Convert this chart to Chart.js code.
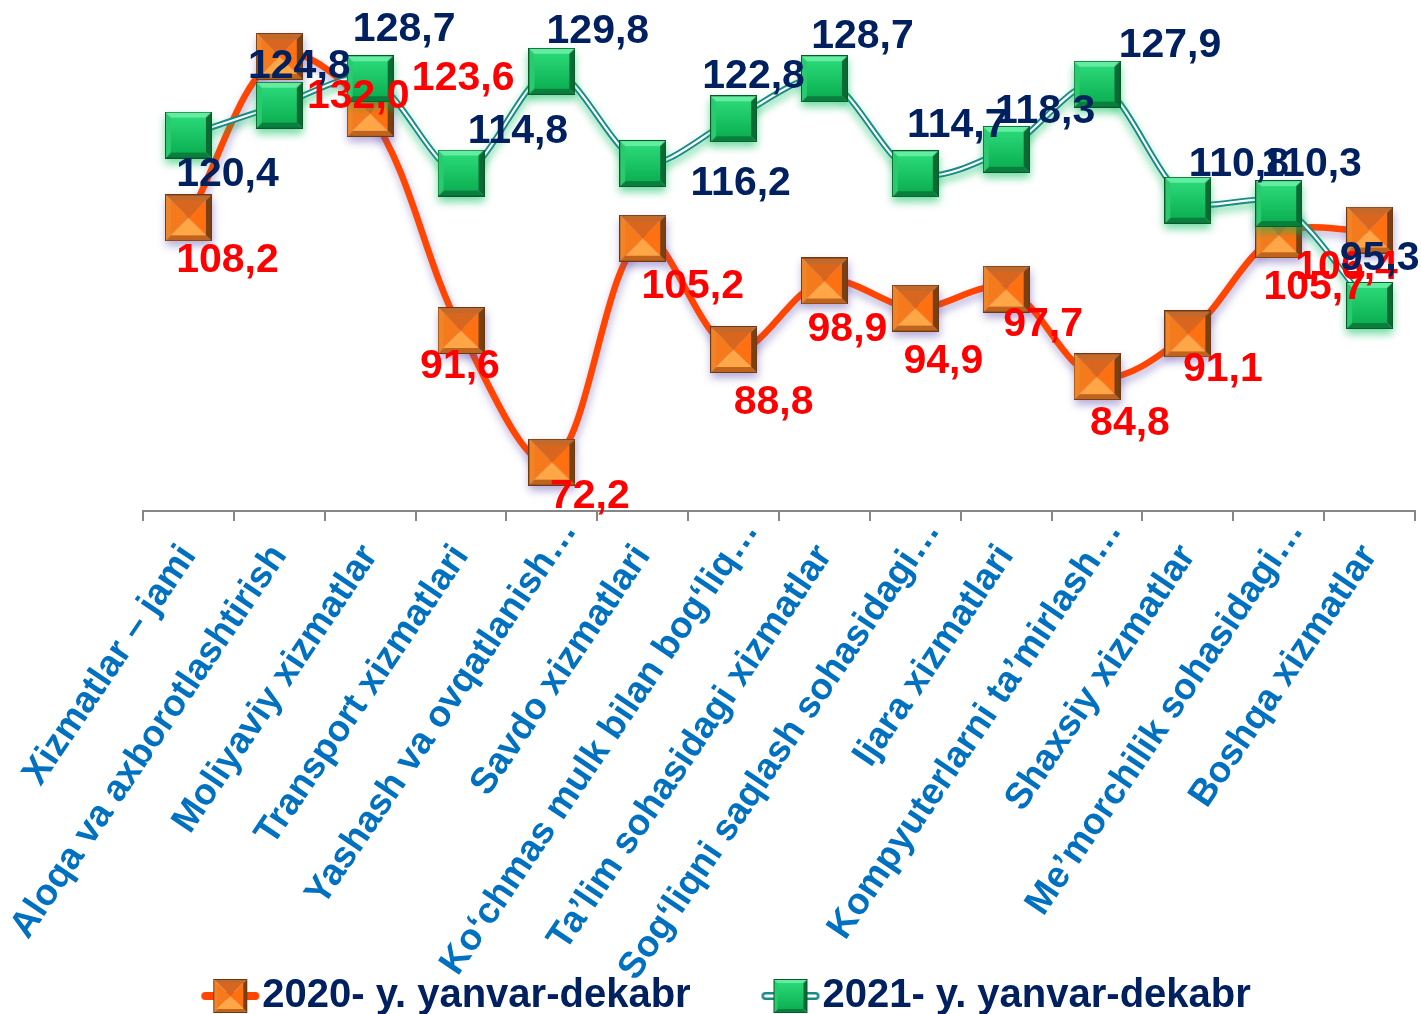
<!DOCTYPE html>
<html><head><meta charset="utf-8">
<script src="https://cdn.jsdelivr.net/npm/chart.js@4"></script>
<style>html,body{margin:0;padding:0;background:#fff;}#wrap{width:1421px;height:1014px;}</style>
</head><body><div id="wrap"><canvas id="c" width="1421" height="1014"></canvas></div>
<script>
const categories = [
  'Xizmatlar – jami',
  'Aloqa va axborotlashtirish',
  'Moliyaviy xizmatlar',
  'Transport xizmatlari',
  'Yashash va ovqatlanish…',
  'Savdo xizmatlari',
  'Ko‘chmas mulk bilan bog‘liq…',
  'Ta’lim sohasidagi xizmatlar',
  'Sog‘liqni saqlash sohasidagi…',
  'Ijara xizmatlari',
  'Kompyuterlarni ta’mirlash…',
  'Shaxsiy xizmatlar',
  'Me’morchilik sohasidagi…',
  'Boshqa xizmatlar'
];
const values2020 = [108.2, 132.0, 123.6, 91.6, 72.2, 105.2, 88.8, 98.9, 94.9, 97.7, 84.8, 91.1, 105.7, 106.4];
const values2021 = [120.4, 124.8, 128.7, 114.8, 129.8, 116.2, 122.8, 128.7, 114.7, 118.3, 127.9, 110.8, 110.3, 95.3];
const seriesNames = ['2020- y. yanvar-dekabr', '2021- y. yanvar-dekabr'];

// label placement offsets (pixels relative to point)
const labelOffsets2020 = [[39,43],[79,40],[93,-35],[-1,36],[38,35],[50,48],[40,53],[23,49],[28,54],[37,36],[33,47],[35,36],[36,53],[-23,38]];
const labelOffsets2021 = [[39,40],[20,-38],[34,-49],[57,-41],[46,-40],[98,20],[20,-42],[38,-42],[42,-48],[39,-38],[73,-38],[51,-36],[33,-39],[10,-47]];

const FONT = '"Liberation Sans", Arial, sans-serif';
const fmt = v => v.toFixed(1).replace('.', ',');

function poly(g, pts, fill) {
  g.beginPath(); g.moveTo(pts[0][0], pts[0][1]);
  for (let i = 1; i < pts.length; i++) g.lineTo(pts[i][0], pts[i][1]);
  g.closePath(); g.fillStyle = fill; g.fill();
}
function drawMarker(g, kind, x0, y0, S) {
  const x1 = x0 + S, y1 = y0 + S;
  const b = Math.max(3, Math.round(S * 0.13));
  const ix0 = x0 + b, iy0 = y0 + b, ix1 = x1 - b, iy1 = y1 - b;
  if (kind === 'orange') {
    poly(g, [[x0,y0],[x1,y0],[ix1,iy0],[ix0,iy0]], '#C2692C');
    poly(g, [[x0,y0],[ix0,iy0],[ix0,iy1],[x0,y1]], '#F08426');
    poly(g, [[x1,y0],[x1,y1],[ix1,iy1],[ix1,iy0]], '#7A4012');
    poly(g, [[x0,y1],[ix0,iy1],[ix1,iy1],[x1,y1]], '#C0631C');
    const cx = (ix0 + ix1) / 2, cy = (iy0 + iy1) / 2;
    poly(g, [[ix0,iy0],[ix1,iy0],[cx,cy]], '#D9661E');
    poly(g, [[ix0,iy0],[cx,cy],[ix0,iy1]], '#F47A1C');
    poly(g, [[ix1,iy0],[ix1,iy1],[cx,cy]], '#FF7010');
    poly(g, [[ix0,iy1],[cx,cy],[ix1,iy1]], '#FFA646');
    g.strokeStyle = '#6B3A14'; g.lineWidth = 1; g.strokeRect(x0 + 0.5, y0 + 0.5, S - 1, S - 1);
  } else {
    poly(g, [[x0,y0],[x1,y0],[ix1,iy0],[ix0,iy0]], '#62EDA0');
    poly(g, [[x0,y0],[ix0,iy0],[ix0,iy1],[x0,y1]], '#2ACB6E');
    poly(g, [[x1,y0],[x1,y1],[ix1,iy1],[ix1,iy0]], '#0B6A33');
    poly(g, [[x0,y1],[ix0,iy1],[ix1,iy1],[x1,y1]], '#0A7F3D');
    const gr = g.createLinearGradient(0, iy0, 0, iy1);
    gr.addColorStop(0, '#2AD878'); gr.addColorStop(1, '#0CB152');
    g.fillStyle = gr; g.fillRect(ix0, iy0, ix1 - ix0, iy1 - iy0);
    g.strokeStyle = '#0A5A2A'; g.lineWidth = 1; g.strokeRect(x0 + 0.5, y0 + 0.5, S - 1, S - 1);
  }
}
function makeMarker(kind, S) {
  const cv = document.createElement('canvas'); cv.width = S; cv.height = S;
  drawMarker(cv.getContext('2d'), kind, 0, 0, S);
  return cv;
}
function makeLegendImg(kind) {
  const W = 60, H = 40, S = 34;
  const cv = document.createElement('canvas'); cv.width = W; cv.height = H;
  const g = cv.getContext('2d');
  g.lineCap = 'round';
  if (kind === 'orange') {
    g.strokeStyle = '#FF4500'; g.lineWidth = 8;
    g.beginPath(); g.moveTo(5, H / 2); g.lineTo(W - 5, H / 2); g.stroke();
  } else {
    g.strokeStyle = '#1A8A88'; g.lineWidth = 8;
    g.beginPath(); g.moveTo(5, H / 2); g.lineTo(W - 5, H / 2); g.stroke();
    g.strokeStyle = '#ffffff'; g.lineWidth = 3;
    g.beginPath(); g.moveTo(5, H / 2); g.lineTo(W - 5, H / 2); g.stroke();
  }
  drawMarker(g, kind, (W - S) / 2, (H - S) / 2, S);
  return cv;
}

const orangeMarker = makeMarker('orange', 47);
const greenMarker = makeMarker('green', 47);
const legendOrange = makeLegendImg('orange');
const legendGreen = makeLegendImg('green');

const shadowPlugin = {
  id: 'shadows',
  beforeDatasetDraw(chart, args) {
    const ctx = chart.ctx; ctx.save();
    if (args.index === 0) {
      ctx.shadowColor = 'rgba(90,70,170,0.45)'; ctx.shadowBlur = 8; ctx.shadowOffsetX = 1; ctx.shadowOffsetY = 5;
    } else if (args.index === 1 || args.index === 3) {
      ctx.shadowColor = 'rgba(0,190,90,0.55)'; ctx.shadowBlur = 9; ctx.shadowOffsetX = 0; ctx.shadowOffsetY = 5;
    }
  },
  afterDatasetDraw(chart) { chart.ctx.restore(); }
};

const valueLabelPlugin = {
  id: 'valueLabels',
  afterDatasetsDraw(chart) {
    const ctx = chart.ctx;
    const sets = [[0, values2020, labelOffsets2020, '#FF0000'], [3, values2021, labelOffsets2021, '#002060']];
    ctx.save();
    ctx.font = 'bold 41px ' + FONT;
    ctx.textAlign = 'center'; ctx.textBaseline = 'middle';
    for (const [di, vals, offs, color] of sets) {
      const meta = chart.getDatasetMeta(di);
      meta.data.forEach((pt, i) => {
        ctx.fillStyle = color;
        ctx.fillText(fmt(vals[i]), pt.x + offs[i][0], pt.y + offs[i][1]);
      });
    }
    ctx.restore();
  }
};

// truncated ("…") category labels sit a little further along their slant
const ELLIPSIS_SHIFT = [17, -25];
function patchXScale(s) {
  if (s._patched) return;
  s._patched = true;
  s._computeLabelArea = () => undefined;
  const orig = s._computeLabelItems.bind(s);
  s._computeLabelItems = (area) => {
    const items = orig(area);
    items.forEach(it => {
      if (String(it.label).endsWith('…')) {
        const t = it.options.translation;
        it.options.translation = [t[0] + ELLIPSIS_SHIFT[0], t[1] + ELLIPSIS_SHIFT[1]];
      }
    });
    return items;
  };
}

const NB = '\u00A0';
new Chart(document.getElementById('c'), {
  type: 'line',
  data: {
    labels: categories,
    datasets: [
      { label: seriesNames[0], data: values2020, borderColor: '#FF4500', borderWidth: 6.5, tension: 0.35,
        pointStyle: orangeMarker, pointRadius: 24, clip: false, order: 4, fill: false },
      { label: seriesNames[1], data: values2021, borderColor: '#1A8A88', borderWidth: 6, tension: 0.3,
        pointRadius: 0, clip: false, order: 3, fill: false },
      { label: 'inner', data: values2021, borderColor: '#ffffff', borderWidth: 2.2, tension: 0.3,
        pointRadius: 0, clip: false, order: 2, fill: false },
      { label: 'markers', data: values2021, showLine: false, pointStyle: greenMarker, pointRadius: 24,
        clip: false, order: 1 }
    ]
  },
  options: {
    responsive: false,
    animation: false,
    events: [],
    devicePixelRatio: 1,
    layout: { autoPadding: false, padding: { top: 0, left: 143, right: 6, bottom: -12 } },
    plugins: {
      tooltip: { enabled: false },
      legend: {
        position: 'bottom',
        labels: {
          usePointStyle: true,
          pointStyleWidth: 24,
          padding: 10,
          color: '#002060',
          font: { family: FONT, size: 40, weight: 'bold' },
          generateLabels: () => [
            { text: seriesNames[0] + NB.repeat(7), pointStyle: legendOrange, datasetIndex: 0, hidden: false,
              fillStyle: 'transparent', strokeStyle: 'transparent', lineWidth: 0, fontColor: '#002060' },
            { text: seriesNames[1] + NB.repeat(8), pointStyle: legendGreen, datasetIndex: 1, hidden: false,
              fillStyle: 'transparent', strokeStyle: 'transparent', lineWidth: 0, fontColor: '#002060' }
          ]
        }
      }
    },
    scales: {
      x: {
        offset: true,
        grid: { display: true, offset: true, drawOnChartArea: false, drawTicks: true, tickLength: 10, color: '#868686', lineWidth: 2 },
        border: { display: true, color: '#868686', width: 2 },
        ticks: {
          autoSkip: false, maxRotation: 56, minRotation: 56, padding: 16,
          color: '#0070C0', font: { family: FONT, size: 37, weight: 'bold' }
        },
        afterFit: (s) => { s.height = 455; s.paddingLeft = 0; s.paddingRight = 0; patchXScale(s); }
      },
      y: { display: false, min: 65, max: 140.3 }
    }
  },
  plugins: [shadowPlugin, valueLabelPlugin]
});
</script></body></html>
